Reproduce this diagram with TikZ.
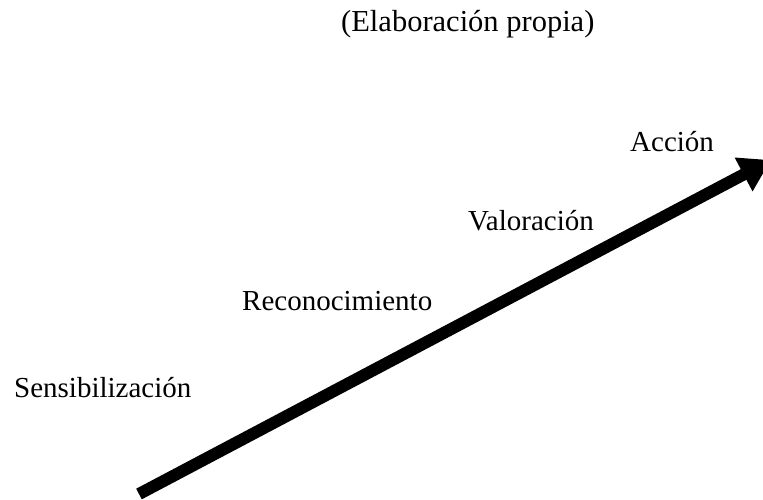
\documentclass[tikz,border=0pt]{standalone}
\usepackage{fontspec}
\setmainfont{Liberation Serif}
\usetikzlibrary{arrows.meta}
\usetikzlibrary{positioning}

\tikzset{
	etapa/.style={anchor=base west, inner sep=0pt, font=\fontsize{29}{34}\selectfont},
	flecha/.style={line width=12pt, -{Triangle[length=31pt,width=36pt]}}
}

\begin{document}
\begin{tikzpicture}[x=1pt, y=-1pt]
	\useasboundingbox (0,0) rectangle (763,500);
	\clip (0,0) rectangle (763,500);
	
	\node[etapa, font=\fontsize{30.5}{36}\selectfont] (titulo) at (341,32) {(Elaboración propia)};
	
	\node[etapa] (sens) at (14,397) {Sensibilización};
	\node[etapa] (recon) at (242,310) {Reconocimiento};
	\node[etapa] (valor) at (468,230) {Valoración};
	\node[etapa] (accion) at (630,151) {Acción};
	
	\coordinate (inicio) at (139,494);
	\coordinate (fin) at (771,160);
	
	\draw[flecha] (inicio) -- (fin);
\end{tikzpicture}
\end{document}
